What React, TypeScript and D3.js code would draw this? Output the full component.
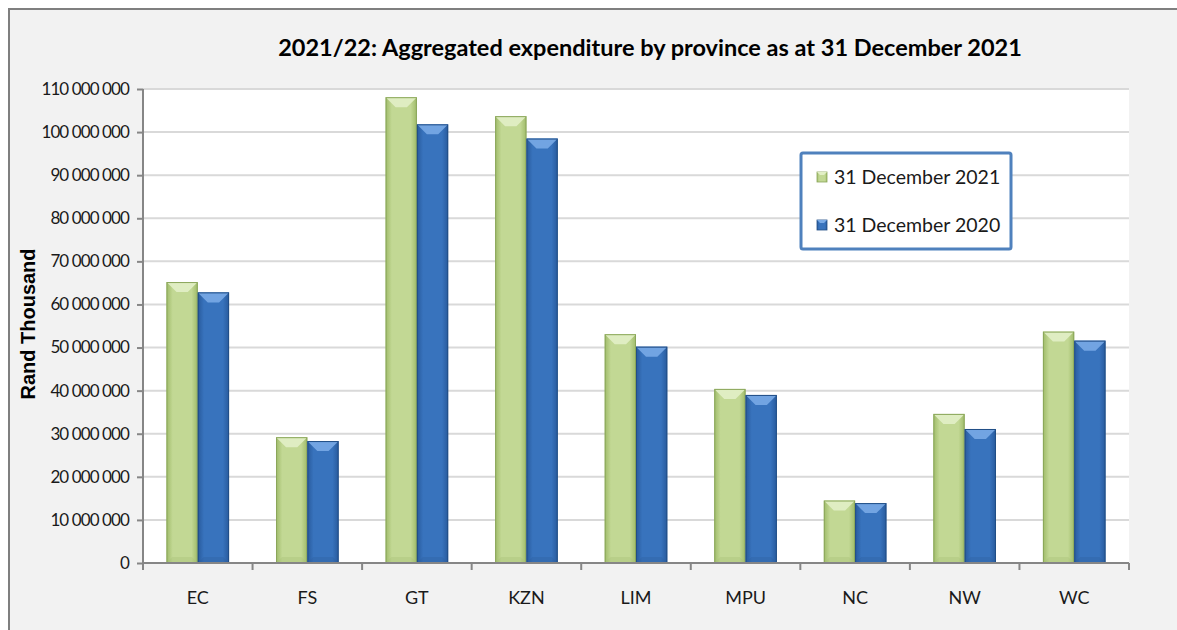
import React, { useEffect, useRef } from "react";
import * as d3 from "d3";

const provinces = ["EC", "FS", "GT", "KZN", "LIM", "MPU", "NC", "NW", "WC"];
const dec2021 = [65200000, 29200000, 108100000, 103700000, 53100000, 40400000, 14500000, 34600000, 53700000];
const dec2020 = [62800000, 28300000, 101800000, 98500000, 50200000, 39000000, 13900000, 31100000, 51600000];
const seriesNames = ["31 December 2021", "31 December 2020"];
const yTicks = [0, 10, 20, 30, 40, 50, 60, 70, 80, 90, 100, 110].map(d => d * 1000000);

const W = 1177;
const H = 630;
const plot = { left: 143, right: 1129, top: 89, bottom: 563 };

const palette = [
  { main: "#c2d894", edge: "#9fbb69", light: "#e2efc6", dark: "#a6bf76", line: "#8aa65a" },
  { main: "#3873bd", edge: "#285a9c", light: "#79aae6", dark: "#2d5f9f", line: "#214e86" }
];

function fmt(v: number) {
  return d3.format(",")(v).replace(/,/g, " ");
}

export default function App() {
  const ref = useRef<SVGSVGElement>(null);

  useEffect(() => {
    const svg = d3.select(ref.current);
    svg.selectAll("*").remove();

    const defs = svg.append("defs");
    palette.forEach((p, i) => {
      const g = defs.append("linearGradient").attr("id", "bar" + i).attr("x1", "0").attr("x2", "1").attr("y1", "0").attr("y2", "0");
      g.append("stop").attr("offset", "0").attr("stop-color", p.edge);
      g.append("stop").attr("offset", "0.2").attr("stop-color", p.main);
      g.append("stop").attr("offset", "0.8").attr("stop-color", p.main);
      g.append("stop").attr("offset", "1").attr("stop-color", p.edge);
    });

    // frame
    svg.append("rect").attr("width", W).attr("height", H).attr("fill", "#ffffff");
    svg.append("rect")
      .attr("x", 9).attr("y", 9).attr("width", W + 20).attr("height", H + 20)
      .attr("fill", "#f2f2f2").attr("stroke", "#7f7f7f").attr("stroke-width", 2);

    const x = d3.scaleBand().domain(provinces).range([plot.left, plot.right]);
    const inner = d3.scaleBand().domain(["0", "1"]).range([0, x.bandwidth()]).paddingOuter(0.75).paddingInner(0);
    const y = d3.scaleLinear().domain([0, 110000000]).range([plot.bottom, plot.top]);

    svg.append("rect")
      .attr("x", plot.left).attr("y", plot.top)
      .attr("width", plot.right - plot.left).attr("height", plot.bottom - plot.top)
      .attr("fill", "#ffffff");

    // gridlines
    svg.append("g")
      .selectAll("line")
      .data(yTicks.filter(d => d > 0))
      .enter()
      .append("line")
      .attr("x1", plot.left).attr("x2", plot.right)
      .attr("y1", d => y(d)).attr("y2", d => y(d))
      .attr("stroke", "#d9d9d9").attr("stroke-width", 2);

    // bars
    const data = provinces.map((p, i) => ({ p, vals: [dec2021[i], dec2020[i]] }));
    const groups = svg.append("g").selectAll("g").data(data).enter().append("g")
      .attr("transform", d => "translate(" + x(d.p) + ",0)");

    groups.each(function (d) {
      const g = d3.select(this);
      d.vals.forEach((v, s) => {
        const p = palette[s];
        const x0 = inner(String(s)) as number;
        const w = inner.bandwidth();
        const yt = y(v);
        const yb = y(0);
        const b = Math.min(10, (yb - yt) / 3);
        g.append("rect").attr("x", x0).attr("y", yt).attr("width", w).attr("height", yb - yt)
          .attr("fill", "url(#bar" + s + ")");
        g.append("path")
          .attr("d", `M${x0},${yt}L${x0 + w},${yt}L${x0 + w - b},${yt + b}L${x0 + b},${yt + b}Z`)
          .attr("fill", p.light).attr("opacity", 0.9);
        g.append("path")
          .attr("d", `M${x0},${yb}L${x0 + w},${yb}L${x0 + w - 6},${yb - 6}L${x0 + 6},${yb - 6}Z`)
          .attr("fill", p.dark).attr("opacity", 0.35);
        g.append("rect").attr("x", x0 + 0.5).attr("y", yt + 0.5).attr("width", w - 1).attr("height", yb - yt - 1)
          .attr("fill", "none").attr("stroke", p.line).attr("stroke-width", 1);
      });
    });

    // y axis
    const axisY = svg.append("g")
      .attr("transform", "translate(" + plot.left + ",0)")
      .call(d3.axisLeft(y).tickValues(yTicks).tickFormat(d => fmt(d as number)).tickSize(6).tickPadding(8));
    axisY.select(".domain").attr("stroke", "#868686").attr("stroke-width", 2).attr("d", `M0,${plot.top}V${plot.bottom}`);
    axisY.selectAll(".tick line").attr("stroke", "#868686").attr("stroke-width", 2);
    axisY.selectAll(".tick text")
      .attr("fill", "#1a1a1a").style("font-family", "Lato").style("font-size", "17px").style("letter-spacing", "-0.9px");

    // x axis
    const axisX = svg.append("g")
      .attr("transform", "translate(0," + plot.bottom + ")")
      .call(d3.axisBottom(x).tickSize(0).tickPadding(28));
    axisX.select(".domain").attr("stroke", "#868686").attr("stroke-width", 2).attr("d", `M${plot.left},0H${plot.right}`);
    axisX.selectAll(".tick text")
      .attr("fill", "#1a1a1a").style("font-family", "Lato").style("font-size", "18px");
    svg.append("g").selectAll("line")
      .data(provinces.concat(["end"]))
      .enter().append("line")
      .attr("x1", d => d === "end" ? plot.right : (x(d) as number))
      .attr("x2", d => d === "end" ? plot.right : (x(d) as number))
      .attr("y1", plot.bottom).attr("y2", plot.bottom + 7)
      .attr("stroke", "#868686").attr("stroke-width", 2);

    // title
    svg.append("text")
      .text("2021/22: Aggregated expenditure by province as at 31 December 2021")
      .attr("x", 650).attr("y", 56)
      .attr("text-anchor", "middle")
      .style("font-family", "Lato").style("font-weight", "bold").style("font-size", "23.5px")
      .attr("fill", "#000000");

    // y label
    svg.append("text")
      .text("Rand Thousand")
      .attr("transform", "translate(35,324) rotate(-90)")
      .attr("text-anchor", "middle")
      .style("font-family", "Liberation Sans, Arial").style("font-weight", "bold").style("font-size", "20px")
      .attr("fill", "#000000");

    // legend
    const lg = svg.append("g").attr("transform", "translate(801,153)");
    lg.append("rect").attr("width", 210).attr("height", 96).attr("rx", 2)
      .attr("fill", "#ffffff").attr("stroke", "#4f81bd").attr("stroke-width", 3);
    seriesNames.forEach((n, i) => {
      const row = lg.append("g").attr("transform", "translate(16," + (24 + i * 48) + ")");
      row.append("rect").attr("x", 0).attr("y", -5).attr("width", 10).attr("height", 10)
        .attr("fill", "url(#bar" + i + ")").attr("stroke", palette[i].line).attr("stroke-width", 0.8);
      row.append("path").attr("d", "M0,-5L10,-5L7,-2L3,-2Z").attr("fill", palette[i].light);
      row.append("text").text(n).attr("x", 17).attr("y", 7)
        .style("font-family", "Lato").style("font-size", "19.5px").attr("fill", "#1a1a1a");
    });
  }, []);

  return (
    <svg ref={ref} width={W} height={H} viewBox={"0 0 " + W + " " + H}
      style={{ position: "absolute", left: 0, top: 0 }} />
  );
}
